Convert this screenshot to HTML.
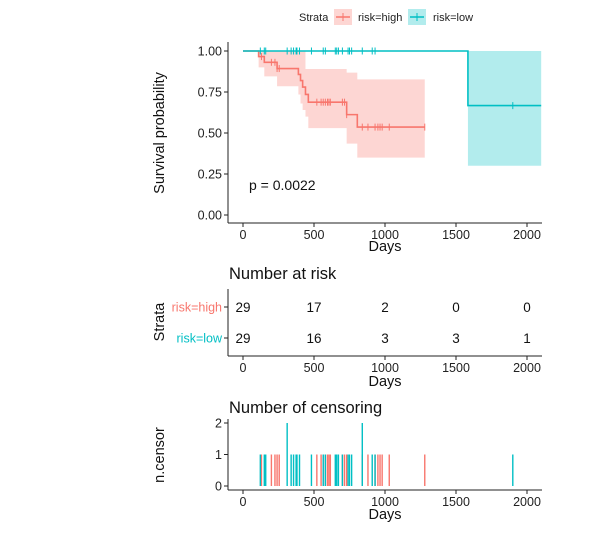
<!DOCTYPE html>
<html><head><meta charset="utf-8"><style>
body{margin:0;background:#fff;}
svg{font-family:"Liberation Sans",Arial,sans-serif;}
</style></head><body>
<svg id="chart" width="605" height="540" viewBox="0 0 605 540" xmlns="http://www.w3.org/2000/svg">
<g id="legend">
  <text x="299" y="21" font-size="11" fill="#222">Strata</text>
  <g>
    <rect x="334" y="9" width="18" height="16" fill="#F8766D" fill-opacity="0.3"/>
    <line x1="336" y1="17" x2="350" y2="17" stroke="#F8766D" stroke-width="1.5"/>
    <line x1="343" y1="13" x2="343" y2="21" stroke="#F8766D" stroke-width="1"/>
    <text x="358" y="21" font-size="11" fill="#222">risk=high</text>
  </g>
  <g>
    <rect x="408" y="9" width="18" height="16" fill="#00BFC4" fill-opacity="0.3"/>
    <line x1="410" y1="17" x2="424" y2="17" stroke="#00BFC4" stroke-width="1.5"/>
    <line x1="417" y1="13" x2="417" y2="21" stroke="#00BFC4" stroke-width="1"/>
    <text x="433" y="21" font-size="11" fill="#222">risk=low</text>
  </g>
</g>
<g id="km"></g>
<g id="risk"></g>
<g id="cens"></g>
</svg>
<script>
// ---- data ----
const xTicks = [0, 500, 1000, 1500, 2000];
const yTicks = [0, 0.25, 0.5, 0.75, 1.0];
const yTickLabels = ["0.00", "0.25", "0.50", "0.75", "1.00"];
const highTimes = [0, 110, 150, 240, 390, 405, 420, 440, 460, 730, 805, 1280];
const highSurv = [1, 0.966, 0.931, 0.893, 0.857, 0.82, 0.78, 0.735, 0.688, 0.612, 0.536, 0.536];
const highLower = [1, 0.9, 0.845, 0.785, 0.735, 0.68, 0.64, 0.6, 0.53, 0.435, 0.35, 0.35];
const highUpper = [1, 1, 1, 1, 1, 1, 1, 0.89, 0.89, 0.868, 0.827, 0.827];
const lowTimes = [0, 1584, 2100];
const lowSurv = [1, 0.667, 0.667];
const lowLower = [1, 0.3, 0.3];
const lowUpper = [1, 1, 1];
const highCensorTimes = [130, 200, 225, 240, 255, 520, 550, 565, 580, 595, 605, 615, 700, 715, 730, 840, 880, 930, 950, 965, 980, 1030, 1280];
const highCensorCounts = [1,1,1,1,1,1,1,1,1,1,1,1,1,1,1,1,1,1,1,1,1,1,1];
const lowCensorTimes = [122, 150, 160, 311, 339, 356, 374, 380, 398, 482, 565, 580, 650, 660, 672, 700, 740, 750, 765, 840, 910, 930, 1900];
const lowCensorCounts = [1,1,1,2,1,1,1,1,1,1,1,1,1,1,1,1,1,1,1,2,1,1,1];
const riskStrata = ["risk=high", "risk=low"];
const riskHigh = [29, 17, 2, 0, 0];
const riskLow = [29, 16, 3, 3, 1];
const censTicks = [0, 1, 2];
const RED = "#F8766D", TEAL = "#00BFC4";
// ---- scales ----
const X = d => 243 + d * 0.142;
const Ykm = p => 215 - p * 164;
const Ycen = c => 486 - c * 31.5;
const NS = "http://www.w3.org/2000/svg";
function mk(parent, tag, attrs, text) {
  const e = document.createElementNS(NS, tag);
  for (const k in attrs) e.setAttribute(k, attrs[k]);
  if (text !== undefined) e.textContent = text;
  parent.appendChild(e);
  return e;
}
function xAxis(g, y, titleY) {
  mk(g, "line", {x1: 228, y1: y, x2: 542, y2: y, stroke: "#222", "stroke-width": 1});
  xTicks.forEach(t => {
    mk(g, "line", {x1: X(t), y1: y, x2: X(t), y2: y + 4, stroke: "#222"});
    const tl = mk(g, "text", {x: X(t), y: y + 16, "font-size": 12.5, "text-anchor": "middle", fill: "#222"}, String(t));
    
    
  });
  const at = mk(g, "text", {x: 385, y: titleY, "font-size": 14.5, "text-anchor": "middle", fill: "#111"}, "Days");
  
  
}
function stepPath(ts, vs, yf) {
  let d = "M" + X(ts[0]) + "," + yf(vs[0]);
  for (let i = 1; i < ts.length; i++) {
    d += " H" + X(ts[i]) + " V" + yf(vs[i]);
  }
  return d;
}
function bandPath(ts, lo, hi, yf) {
  const n = ts.length;
  let d = "M" + X(ts[0]) + "," + yf(hi[0]);
  for (let i = 1; i < n; i++) d += " H" + X(ts[i]) + " V" + yf(hi[i]);
  d += " V" + yf(lo[n - 1]);
  for (let i = n - 1; i >= 1; i--) d += " V" + yf(lo[i - 1]) + " H" + X(ts[i - 1]);
  return d + " Z";
}
function stepVal(ts, vs, t) { let v = vs[0]; for (let i = 0; i < ts.length; i++) if (ts[i] <= t) v = vs[i]; return v; }
// ---- KM panel ----
const km = document.getElementById("km");
const b1 = mk(km, "path", {d: bandPath(highTimes, highLower, highUpper, Ykm), fill: RED, "fill-opacity": 0.3});


const b2 = mk(km, "path", {d: bandPath(lowTimes, lowLower, lowUpper, Ykm), fill: TEAL, "fill-opacity": 0.3});


const l1 = mk(km, "path", {d: stepPath(highTimes, highSurv, Ykm), fill: "none", stroke: RED, "stroke-width": 1.6});


const l2 = mk(km, "path", {d: stepPath(lowTimes, lowSurv, Ykm), fill: "none", stroke: TEAL, "stroke-width": 1.6});


highCensorTimes.forEach(t => {
  const y = Ykm(stepVal(highTimes, highSurv, t));
  const c = mk(km, "line", {x1: X(t), y1: y - 3.5, x2: X(t), y2: y + 3.5, stroke: RED, "stroke-width": 1});
  
  
});
lowCensorTimes.forEach(t => {
  const y = Ykm(stepVal(lowTimes, lowSurv, t));
  const c = mk(km, "line", {x1: X(t), y1: y - 3.5, x2: X(t), y2: y + 3.5, stroke: TEAL, "stroke-width": 1});
  
  
});
mk(km, "line", {x1: 228, y1: 42, x2: 228, y2: 223, stroke: "#222"});
yTicks.forEach((t, i) => {
  mk(km, "line", {x1: 224, y1: Ykm(t), x2: 228, y2: Ykm(t), stroke: "#222"});
  const tl = mk(km, "text", {x: 222, y: Ykm(t) + 4.5, "font-size": 12.5, "text-anchor": "end", fill: "#222"}, yTickLabels[i]);
  
  
});
xAxis(km, 223, 251);
const yt = mk(km, "text", {x: 0, y: 0, "font-size": 14.5, "text-anchor": "middle", fill: "#111", transform: "translate(164,133) rotate(-90)"}, "Survival probability");


const pv = mk(km, "text", {x: 249, y: 190, "font-size": 14, fill: "#111"}, "p = 0.0022");


// ---- risk table ----
const rk = document.getElementById("risk");
const rt = mk(rk, "text", {x: 229, y: 279, "font-size": 16.5, fill: "#111"}, "Number at risk");


mk(rk, "line", {x1: 228, y1: 289, x2: 228, y2: 356, stroke: "#222"});
const rows = [riskHigh, riskLow], rowY = [307, 338], rowC = [RED, TEAL];
rows.forEach((r, j) => {
  mk(rk, "line", {x1: 224, y1: rowY[j], x2: 228, y2: rowY[j], stroke: "#222"});
  const sl = mk(rk, "text", {x: 222, y: rowY[j] + 4.5, "font-size": 12.5, "text-anchor": "end", fill: rowC[j]}, riskStrata[j]);
  
  
  r.forEach((v, i) => {
    const c = mk(rk, "text", {x: X(xTicks[i]), y: rowY[j] + 5, "font-size": 13.5, "text-anchor": "middle", fill: "#111"}, String(v));
    
    
  });
});
xAxis(rk, 356, 386);
const st = mk(rk, "text", {x: 0, y: 0, "font-size": 14.5, "text-anchor": "middle", fill: "#111", transform: "translate(164,322) rotate(-90)"}, "Strata");


// ---- censoring panel ----
const cs = document.getElementById("cens");
const ct = mk(cs, "text", {x: 229, y: 413, "font-size": 16.5, fill: "#111"}, "Number of censoring");


highCensorTimes.forEach((t, i) => {
  const b = mk(cs, "rect", {x: X(t) - 0.7, y: Ycen(highCensorCounts[i]), width: 1.4, height: Ycen(0) - Ycen(highCensorCounts[i]), fill: RED});
  
  
});
lowCensorTimes.forEach((t, i) => {
  const b = mk(cs, "rect", {x: X(t) - 0.7, y: Ycen(lowCensorCounts[i]), width: 1.4, height: Ycen(0) - Ycen(lowCensorCounts[i]), fill: TEAL});
  
  
});
mk(cs, "line", {x1: 228, y1: 419, x2: 228, y2: 490, stroke: "#222"});
censTicks.forEach(t => {
  mk(cs, "line", {x1: 224, y1: Ycen(t), x2: 228, y2: Ycen(t), stroke: "#222"});
  const tl = mk(cs, "text", {x: 222, y: Ycen(t) + 4.5, "font-size": 12.5, "text-anchor": "end", fill: "#222"}, String(t));
  
  
});
xAxis(cs, 490, 519);
const nt = mk(cs, "text", {x: 0, y: 0, "font-size": 14.5, "text-anchor": "middle", fill: "#111", transform: "translate(164,455) rotate(-90)"}, "n.censor");


</script>
</body></html>
